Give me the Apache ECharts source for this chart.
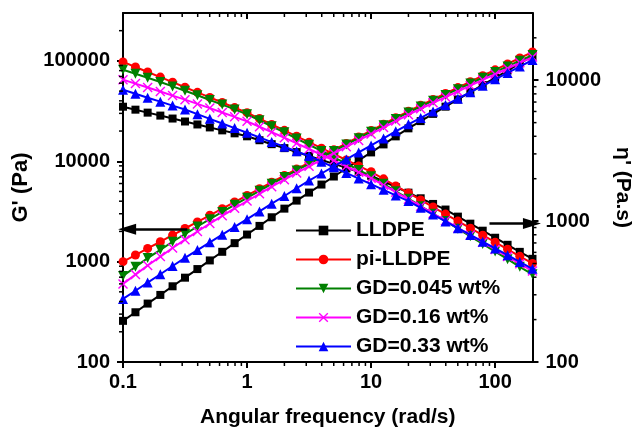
<!DOCTYPE html>
<html>
<head>
<meta charset="utf-8">
<script src="https://cdn.jsdelivr.net/npm/echarts@6/dist/echarts.min.js"></script>
<style>
  html, body { margin: 0; padding: 0; background: #fff; }
  #chart { width: 641px; height: 433px; }
</style>
</head>
<body>
<div id="chart"></div>
<script>
// ---- Data ----
const omega = [0.1, 0.126, 0.158, 0.2, 0.251, 0.316, 0.398, 0.501, 0.631, 0.794,
  1, 1.26, 1.58, 2, 2.51, 3.16, 3.98, 5.01, 6.31, 7.94,
  10, 12.6, 15.8, 20, 25.1, 31.6, 39.8, 50.1, 63.1, 79.4,
  100, 126, 158, 200];

const seriesNames = ['LLDPE', 'pi-LLDPE', 'GD=0.045 wt%', 'GD=0.16 wt%', 'GD=0.33 wt%'];

// storage modulus G' (Pa), left axis
const gLLDPE = [257, 313, 382, 466, 568, 692, 843, 1028, 1253, 1528,
  1862, 2270, 2767, 3373, 4055, 4875, 5860, 7047, 8472, 10190,
  12250, 14720, 17700, 21280, 25120, 29650, 34990, 41300, 48750, 57540,
  67920, 80170, 94620, 111700];
const gPi = [1000, 1164, 1355, 1578, 1837, 2138, 2489, 2897, 3373, 3926,
  4571, 5321, 6194, 7211, 8356, 9683, 11220, 13000, 15070, 17460,
  20230, 23440, 27160, 31480, 36060, 41300, 47320, 54200, 62090, 71120,
  81470, 93330, 106900, 122500];
const gGD045 = [720, 887, 1084, 1312, 1578, 1884, 2239, 2649, 3126, 3681,
  4325, 5082, 5957, 6966, 8110, 9419, 10910, 12650, 14660, 16980,
  19680, 22800, 26420, 30620, 35080, 40180, 45810, 52240, 59570, 67920,
  77450, 88100, 100500, 114300];
const gGD016 = [600, 743, 916, 1122, 1368, 1656, 1995, 2393, 2858, 3396,
  4018, 4742, 5585, 6561, 7656, 8913, 10350, 12020, 13930, 16140,
  18710, 21680, 25120, 29110, 33340, 38190, 43550, 49660, 56620, 64570,
  73620, 83950, 95720, 109100];
const gGD033 = [425, 513, 619, 748, 904, 1091, 1303, 1556, 1858, 2218,
  2649, 3162, 3776, 4508, 5383, 6427, 7551, 8872, 10420, 12250,
  14390, 16900, 19860, 23330, 27040, 31330, 36310, 42070, 48750, 56490,
  65460, 75860, 87900, 101900];

// dynamic viscosity eta' (Pa.s), right axis
const etaLLDPE = [6486, 6180, 5888, 5610, 5346, 5093, 4853, 4624, 4406, 4198,
  3999, 3750, 3516, 3296, 3090, 2897, 2716, 2547, 2388, 2239,
  2099, 1914, 1746, 1592, 1452, 1324, 1208, 1076, 959, 855,
  762, 679, 605, 540];
const etaPi = [13490, 12420, 11430, 10520, 9683, 8913, 8204, 7551, 6950, 6397,
  5888, 5346, 4853, 4406, 3999, 3631, 3296, 2992, 2716, 2466,
  2239, 1995, 1778, 1585, 1413, 1259, 1122, 1000, 891, 794,
  708, 631, 562, 501];
const etaGD045 = [11860, 11120, 10400, 9705, 9036, 8414, 7816, 7244, 6714, 6209,
  5728, 5200, 4710, 4266, 3855, 3483, 3148, 2838, 2559, 2307,
  2080, 1841, 1629, 1442, 1276, 1130, 1000, 883, 780, 689,
  608, 537, 474, 419];
const etaGD016 = [10070, 9462, 8872, 8318, 7780, 7278, 6792, 6339, 5902, 5495,
  5105, 4677, 4276, 3908, 3565, 3251, 2958, 2692, 2449, 2223,
  2018, 1799, 1603, 1429, 1274, 1132, 1007, 895, 796, 708,
  630, 560, 498, 443];
const etaGD033 = [8551, 8017, 7516, 7047, 6607, 6194, 5741, 5321, 4932, 4571,
  4236, 3926, 3639, 3373, 3126, 2897, 2642, 2410, 2198, 2004,
  1828, 1667, 1521, 1387, 1242, 1112, 995, 891, 798, 714,
  640, 573, 513, 459];

// axis ranges and minor tick values
const xRange = [0.1, 200];
const gRange = [100, 300000];
const etaRange = [100, 30000];
const xMinorTicks = [0.2, 0.3, 0.4, 0.5, 0.6, 0.7, 0.8, 0.9, 2, 3, 4, 5, 6, 7, 8, 9,
  20, 30, 40, 50, 60, 70, 80, 90];
const gMinorTicks = [200, 300, 400, 500, 600, 700, 800, 900, 2000, 3000, 4000, 5000, 6000, 7000, 8000, 9000,
  20000, 30000, 40000, 50000, 60000, 70000, 80000, 90000, 200000];
const etaMinorTicks = [200, 300, 400, 500, 600, 700, 800, 900, 2000, 3000, 4000, 5000, 6000, 7000, 8000, 9000, 20000];

// arrows: [from, to] in data values
const leftArrow = [[0.33, 2100], [0.108, 2100]];
const rightArrow = [[90, 960], [198, 960]];

// ---- Styles ----
const colors = ['#000000', '#ff0000', '#008000', '#ff00ff', '#0000ff'];
const symbols = ['rect', 'circle', 'triangle',
  'path://M0,1 L1,0 L5,4 L9,0 L10,1 L6,5 L10,9 L9,10 L5,6 L1,10 L0,9 L4,5 Z',
  'triangle'];
const symbolRot = [0, 0, 180, 0, 0];
const symbolSizes = [8, 9, 10, 10, 10];
const FONT = "'Liberation Sans', Arial, Helvetica, sans-serif";

const gData = [gLLDPE, gPi, gGD045, gGD016, gGD033];
const etaData = [etaLLDPE, etaPi, etaGD045, etaGD016, etaGD033];

function fmt(v) { return String(+(+v).toPrecision(4)); }

const series = [];
function lineSeries(i, arr, yIdx) {
  return {
    type: 'line',
    name: seriesNames[i],
    xAxisIndex: 0,
    yAxisIndex: yIdx,
    data: omega.map((w, k) => [w, arr[k]]),
    symbol: symbols[i],
    symbolRotate: symbolRot[i],
    symbolSize: symbolSizes[i],
    showAllSymbol: true,
    lineStyle: { color: colors[i], width: 2 },
    itemStyle: { color: colors[i] },
    emphasis: { disabled: true },
    silent: true,
    z: 2 + i
  };
}
for (let i = 0; i < 5; i++) series.push(lineSeries(i, gData[i], 0));
for (let i = 0; i < 5; i++) series.push(lineSeries(i, etaData[i], 1));

const arrowStyle = {
  silent: true,
  symbol: ['none', 'triangle'],
  symbolSize: [11, 18],
  label: { show: false },
  lineStyle: { type: 'solid', color: '#000', width: 2.5 },
  emphasis: { disabled: true }
};
series[0].markLine = Object.assign({}, arrowStyle, {
  data: [[{ coord: leftArrow[0] }, { coord: leftArrow[1] }]]
});
series[5].markLine = Object.assign({}, arrowStyle, {
  data: [[{ coord: rightArrow[0] }, { coord: rightArrow[1] }]]
});

// minor ticks drawn through the axes' scales
const MINOR = 4;
function tickSeries(values, kind) {
  return {
    type: 'custom',
    name: '_ticks_' + kind,
    xAxisIndex: 0,
    yAxisIndex: kind === 'r' ? 1 : 0,
    silent: true,
    clip: false,
    z: 10,
    data: values.map(v => kind === 'x' ? [v, gRange[0]] : (kind === 'l' ? [xRange[0], v] : [xRange[1], v])),
    renderItem: function (params, api) {
      const st = { stroke: '#000', lineWidth: 1.5 };
      if (kind === 'x') {
        const b = api.coord([api.value(0), gRange[0]]);
        const t = api.coord([api.value(0), gRange[1]]);
        return { type: 'group', children: [
          { type: 'line', shape: { x1: b[0], y1: b[1], x2: b[0], y2: b[1] + MINOR }, style: st },
          { type: 'line', shape: { x1: t[0], y1: t[1], x2: t[0], y2: t[1] + MINOR }, style: st }
        ] };
      } else if (kind === 'l') {
        const p = api.coord([xRange[0], api.value(1)]);
        return { type: 'line', shape: { x1: p[0], y1: p[1], x2: p[0] - MINOR, y2: p[1] }, style: st };
      } else {
        const p = api.coord([xRange[1], api.value(1)]);
        return { type: 'line', shape: { x1: p[0], y1: p[1], x2: p[0] + MINOR, y2: p[1] }, style: st };
      }
    }
  };
}
series.push(tickSeries(xMinorTicks, 'x'));
series.push(tickSeries(gMinorTicks, 'l'));
series.push(tickSeries(etaMinorTicks, 'r'));

const axisLine = { show: true, onZero: false, lineStyle: { color: '#000', width: 2 } };
const labelStyle = { color: '#000', fontSize: 20, fontWeight: 'bold', fontFamily: FONT };
const nameStyle = { color: '#000', fontSize: 21, fontWeight: 'bold', fontFamily: FONT };

const option = {
  animation: false,
  backgroundColor: '#fff',
  grid: { left: 123, right: 88, top: 13, bottom: 70 },
  legend: {
    data: seriesNames,
    orient: 'vertical',
    left: 290,
    top: 215,
    itemWidth: 55,
    itemHeight: 12,
    itemGap: 8,
    selectedMode: false,
    textStyle: { color: '#000', fontSize: 21, fontWeight: 'bold', fontFamily: FONT }
  },
  xAxis: [
    {
      type: 'log', logBase: 10, min: xRange[0], max: xRange[1], position: 'bottom',
      name: 'Angular frequency (rad/s)', nameLocation: 'middle', nameGap: 45,
      nameTextStyle: nameStyle,
      axisLine: axisLine,
      axisTick: { show: true, inside: false, length: 6, lineStyle: { width: 2, color: '#000' } },
      axisLabel: Object.assign({ margin: 10, showMaxLabel: false, formatter: fmt }, labelStyle),
      splitLine: { show: false }
    },
    {
      type: 'log', logBase: 10, min: xRange[0], max: xRange[1], position: 'top',
      axisLine: axisLine,
      axisTick: { show: true, inside: true, length: 6, lineStyle: { width: 2, color: '#000' } },
      axisLabel: { show: false },
      splitLine: { show: false }
    }
  ],
  yAxis: [
    {
      type: 'log', logBase: 10, min: gRange[0], max: gRange[1], position: 'left',
      name: "G' (Pa)", nameLocation: 'middle', nameGap: 86,
      nameTextStyle: Object.assign({}, nameStyle, { fontSize: 22 }),
      axisLine: axisLine,
      axisTick: { show: true, inside: false, length: 6, lineStyle: { width: 2, color: '#000' } },
      axisLabel: Object.assign({ margin: 13, showMaxLabel: false, formatter: fmt }, labelStyle),
      splitLine: { show: false }
    },
    {
      type: 'log', logBase: 10, min: etaRange[0], max: etaRange[1], position: 'right',
      name: "η' (Pa.s)", nameLocation: 'middle', nameGap: 60, nameRotate: -90,
      nameTextStyle: nameStyle,
      axisLine: axisLine,
      axisTick: { show: true, inside: false, length: 6, lineStyle: { width: 2, color: '#000' } },
      axisLabel: Object.assign({ margin: 13, showMaxLabel: false, formatter: fmt }, labelStyle),
      splitLine: { show: false }
    }
  ],
  series: series
};

const chart = echarts.init(document.getElementById('chart'), null, { renderer: 'canvas' });
chart.setOption(option);
</script>
</body>
</html>
